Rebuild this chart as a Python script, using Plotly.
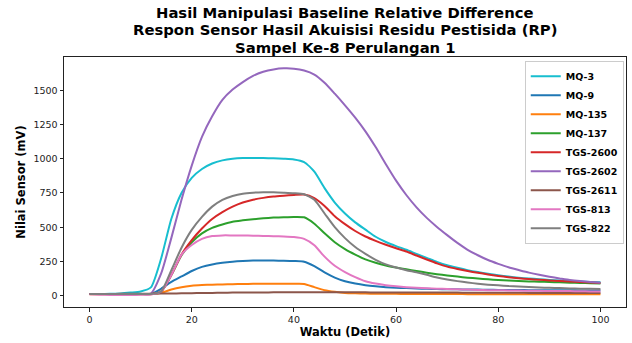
import plotly.graph_objects as go

waktu = list(range(0, 101, 2))

mq3 = [12,12,13,16,22,30,60,270,560,750,860,925,965,988,1000,1005,1006,1005,1003,1000,995,975,905,785,680,600,535,482,430,392,362,335,305,276,247,222,203,186,172,160,149,139,131,125,120,115,111,107,103,100,97]
mq9 = [12,12,12,12,12,12,12,50,100,140,180,210,228,240,248,253,256,256,256,255,253,248,215,170,132,105,88,76,68,62,58,55,52,50,48,47,46,45,44,43,42,41,41,40,40,39,39,39,38,38,38]
mq135 = [10,10,10,10,10,10,10,20,45,62,72,77,80,82,84,85,86,86,86,86,86,85,62,40,28,20,17,15,14,13,13,12,12,12,12,12,12,11,11,11,11,11,11,11,10,10,10,10,10,10,10]
mq137 = [12,12,12,12,12,12,12,30,150,295,390,455,495,520,540,550,558,565,570,573,575,572,525,455,390,340,300,265,240,220,205,192,180,168,157,147,139,131,125,119,114,110,107,104,102,99,97,95,93,91,89]
tgs2600 = [12,12,12,12,12,12,12,28,150,300,405,490,560,610,650,680,700,714,724,730,735,738,712,655,580,522,472,432,400,372,346,322,293,264,236,212,195,180,167,155,144,135,127,121,116,111,107,103,99,96,93]
tgs2602 = [12,12,12,12,12,12,15,160,420,700,950,1160,1310,1430,1505,1560,1605,1635,1652,1660,1658,1645,1615,1555,1475,1390,1300,1200,1085,960,840,735,645,568,502,442,385,335,295,260,232,207,187,168,152,138,126,114,106,100,95]
tgs2611 = [12,12,12,13,13,14,14,15,16,17,18,19,20,21,22,22,23,23,24,24,25,25,25,25,24,24,24,24,23,23,23,23,22,22,22,22,22,21,21,21,21,21,21,20,20,20,20,20,20,20,20]
tgs813 = [10,7,5,5,5,6,8,30,150,300,370,415,435,440,440,440,438,436,434,432,428,415,368,285,218,172,135,105,88,76,68,62,57,54,51,48,46,44,42,40,39,38,37,36,35,34,33,33,32,31,30]
tgs822 = [12,12,12,12,12,12,12,30,185,350,480,575,650,700,728,745,752,755,755,752,748,740,700,600,500,420,355,305,262,228,205,186,170,152,133,118,106,96,87,80,75,70,67,63,60,57,55,53,51,50,49]

series = [
    ("MQ-3", mq3, "#17becf"),
    ("MQ-9", mq9, "#1f77b4"),
    ("MQ-135", mq135, "#ff7f0e"),
    ("MQ-137", mq137, "#2ca02c"),
    ("TGS-2600", tgs2600, "#d62728"),
    ("TGS-2602", tgs2602, "#9467bd"),
    ("TGS-2611", tgs2611, "#8c564b"),
    ("TGS-813", tgs813, "#e377c2"),
    ("TGS-822", tgs822, "#7f7f7f"),
]

title_lines = [
    "Hasil Manipulasi Baseline Relative Difference",
    "Respon Sensor Hasil Akuisisi Residu Pestisida (RP)",
    "Sampel Ke-8 Perulangan 1",
]

xticks = [0, 20, 40, 60, 80, 100]
yticks = [0, 250, 500, 750, 1000, 1250, 1500]

fig = go.Figure()
for name, vals, col in series:
    fig.add_trace(go.Scatter(x=waktu, y=vals, mode="lines", name="<b>%s</b>" % name,
                             line=dict(color=col, width=2, shape="spline", smoothing=0.6)))

font_fam = "DejaVu Sans"
annots = []
for txt, shift in zip(title_lines, [45, 27.5, 10]):
    annots.append(dict(text="<b>%s</b>" % txt, x=0.5, y=1, xref="paper", yref="paper",
                       xanchor="center", yanchor="middle", yshift=shift, showarrow=False,
                       borderpad=0,
                       font=dict(family=font_fam, size=14.8, color="black")))

axis_common = dict(showline=True, mirror=True, linecolor="#222", linewidth=1,
                   ticks="outside", ticklen=3.5, tickwidth=0.8, tickcolor="#222",
                   showgrid=False, zeroline=False,
                   tickfont=dict(family=font_fam, size=9.5, color="#222"))

fig.update_layout(
    width=632, height=343,
    margin=dict(l=64, r=6, t=57, b=36),
    paper_bgcolor="white", plot_bgcolor="white",
    font=dict(family=font_fam),
    annotations=annots,
    showlegend=True,
    legend=dict(x=0.996, y=0.985, xanchor="right", yanchor="top",
                bgcolor="rgba(255,255,255,0.8)", bordercolor="#cccccc", borderwidth=1,
                font=dict(family=font_fam, size=9.5, color="black"),
                itemwidth=30, tracegroupgap=0),
    xaxis=dict(range=[-5, 105], tickvals=xticks,
               title=dict(text="<b>Waktu (Detik)</b>", font=dict(family=font_fam, size=11.5, color="black"), standoff=4),
               **axis_common),
    yaxis=dict(range=[-83, 1743], tickvals=yticks,
               title=dict(text="<b>Nilai Sensor (mV)</b>", font=dict(family=font_fam, size=11.5, color="black"), standoff=5),
               **axis_common),
)

fig.write_html("out.html")
